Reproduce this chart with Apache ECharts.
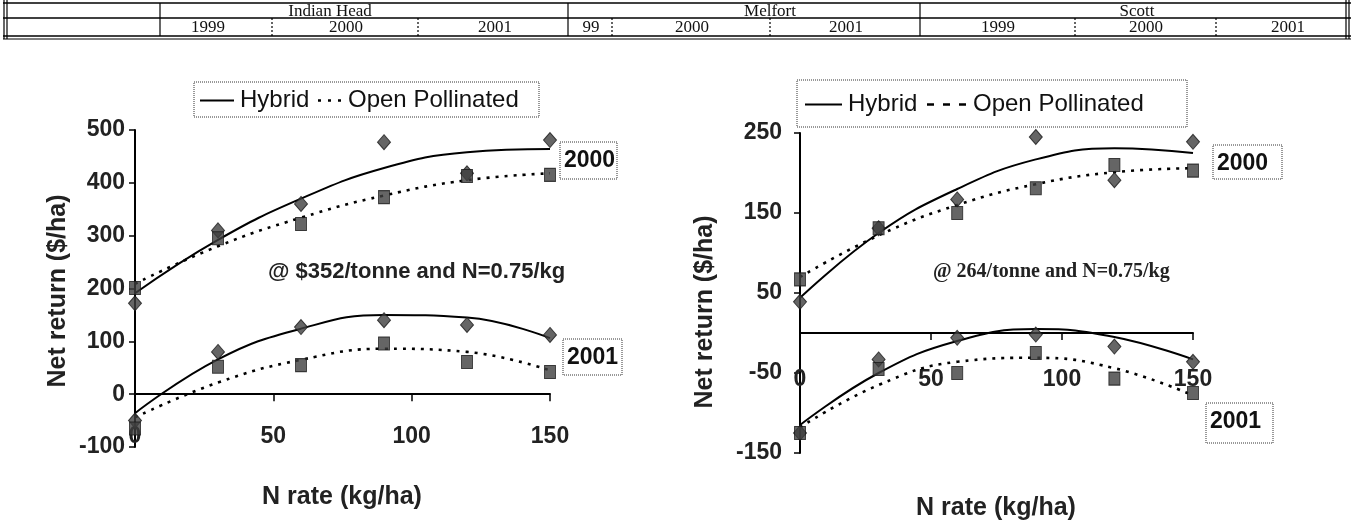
<!DOCTYPE html>
<html><head><meta charset="utf-8">
<script src="https://cdn.jsdelivr.net/npm/echarts@6/dist/echarts.min.js"></script>
<style>html,body{margin:0;padding:0;background:#fff}#c{width:1354px;height:521px}</style>
</head><body><div id="c"></div>
<script>
// ---------- data ----------
const nRates = [0, 30, 60, 90, 120, 150];
// Left panel (@ $352/tonne)
const lHyb2000 = [172, 310, 360, 477, 418, 481];
const lOP2000  = [201, 295, 322, 373, 413, 415];
const lHyb2001 = [-50, 80, 127, 140, 131, 112];
const lOP2001  = [-65, 52, 55, 96, 61, 42];
const lHybFit2000 = [191, 292, 370, 428, 458, 464];
const lOPFit2000  = [209, 280, 334, 376, 405, 418];
const lHybFit2001 = [-36, 66, 124, 150, 145, 106];
const lOPFit2001  = [-44, 22, 65, 86, 80, 45];
// Right panel (@ 264/tonne)
const rHyb2000 = [39, 131, 167, 245, 191, 239];
const rOP2000  = [67, 131, 150, 181, 210, 203];
const rHyb2001 = [-125, -33, -6, -2, -17, -36];
const rOP2001  = [-125, -45, -50, -25, -57, -75];
const rHybFit2000 = [44, 125, 180, 217, 231, 225];
const rOPFit2000  = [70, 122, 160, 186, 201, 206];
const rHybFit2001 = [-115, -50, -10, 5, -5, -33];
const rOPFit2001  = [-118, -65, -36, -31, -44, -78];
// Table header text
const locations = ['Indian Head', 'Melfort', 'Scott'];
const yearLabels = ['1999', '2000', '2001', '99', '2000', '2001', '1999', '2000', '2001'];
const legendNames = ['Hybrid', 'Open Pollinated'];
const yearTags = ['2000', '2001'];
const notes = ['@ $352/tonne and N=0.75/kg', '@ 264/tonne and N=0.75/kg'];
const yTitle = 'Net return ($/ha)';
const xTitle = 'N rate (kg/ha)';

// ---------- layout ----------
const SANS = '"Liberation Sans", Arial, sans-serif';
const SERIF = '"Liberation Serif", "Times New Roman", serif';
const pair = (ys) => nRates.map((x, i) => [x, ys[i]]);
const MK = '#3e3e3e';
const LBL = { color: '#222', fontSize: 23, fontWeight: 'bold', fontFamily: SANS };

function xLineAxis(gi) {
  return {
    gridIndex: gi, type: 'value', min: 0, max: 150, interval: 50, position: 'bottom',
    axisLine: { onZero: true, lineStyle: { color: '#000', width: 2 } },
    axisTick: { show: true, inside: false, length: 7, lineStyle: { color: '#000', width: 1.5 } },
    axisLabel: { show: false }, splitLine: { show: false }
  };
}
function xLabelAxis(gi, off) {
  return {
    gridIndex: gi, type: 'value', min: 0, max: 150, interval: 50, position: 'bottom', offset: off,
    axisLine: { show: false, onZero: false }, axisTick: { show: false },
    axisLabel: Object.assign({ margin: 4 }, LBL), splitLine: { show: false }
  };
}
function yAxisFor(gi, ymin, ymax, margin) {
  return {
    gridIndex: gi, type: 'value', min: ymin, max: ymax, interval: 100,
    axisLine: { show: true, onZero: false, lineStyle: { color: '#000', width: 2 } },
    axisTick: { show: true, inside: false, length: 6, lineStyle: { color: '#000', width: 1.5 } },
    axisLabel: Object.assign({ margin: margin }, LBL),
    splitLine: { show: false }
  };
}

function scatter(xi, yi, ys, sym) {
  return {
    type: 'scatter', xAxisIndex: xi, yAxisIndex: yi, data: pair(ys), z: 5,
    symbol: sym === 'd' ? 'diamond' : 'rect',
    symbolSize: sym === 'd' ? [13, 15] : [11, 13],
    itemStyle: { color: MK, borderColor: '#1a1a1a', borderWidth: 1 }
  };
}
function fit(xi, yi, ys, dotted) {
  return {
    type: 'line', xAxisIndex: xi, yAxisIndex: yi, data: pair(ys), smooth: 0.45,
    symbol: 'none', z: 3,
    lineStyle: { color: '#000', width: dotted ? 2.6 : 2, type: dotted ? [3, 6] : 'solid' }
  };
}

// table geometry
const colSolid = [160, 568, 920];
const colDotted = [272, 418, 612, 770, 1075, 1216];
const locX = [330, 770, 1137];
const yearX = [208, 346, 495, 591, 692, 846, 998, 1146, 1288];
const T = { top: 3, mid: 18, bot: 36 };

const g = [];
const L = (x1, y1, x2, y2, w, dash) => g.push({ type: 'line', shape: { x1, y1, x2, y2 }, style: { stroke: '#000', lineWidth: w, lineDash: dash || null } });
L(3, T.top, 1351, T.top, 1.5);
L(3, T.mid, 1351, T.mid, 1.5);
L(3, T.bot, 1351, T.bot, 1.5);
L(3, T.bot + 3, 1351, T.bot + 3, 1);
[4, 7, 1346, 1349].forEach(x => L(x, 0, x, T.bot + 3, 1.2));
colSolid.forEach(x => L(x, T.top, x, T.bot, 1.2));
colDotted.forEach(x => L(x, T.mid, x, T.bot, 1.2, [2, 2]));
locations.forEach((t, i) => g.push({ type: 'text', x: locX[i], y: (T.top + T.mid) / 2 + 1, style: { text: t, font: '17px ' + SERIF, fill: '#111', align: 'center', verticalAlign: 'middle' } }));
yearLabels.forEach((t, i) => g.push({ type: 'text', x: yearX[i], y: (T.mid + T.bot) / 2 + 1, style: { text: t, font: '17px ' + SERIF, fill: '#111', align: 'center', verticalAlign: 'middle' } }));

// legends
function legend(x0, x1, y0, y1, solidX, hybX, dashX, opX, dash) {
  const cy = (y0 + y1) / 2 + 1;
  g.push({ type: 'rect', shape: { x: x0, y: y0, width: x1 - x0, height: y1 - y0 }, style: { fill: '#fff', stroke: '#333', lineWidth: 1, lineDash: [1, 1] }, z: 10 });
  g.push({ type: 'line', shape: { x1: solidX[0], y1: cy, x2: solidX[1], y2: cy }, style: { stroke: '#000', lineWidth: 2 }, z: 11 });
  g.push({ type: 'text', x: hybX, y: cy, style: { text: legendNames[0], font: '24px ' + SANS, fill: '#111', verticalAlign: 'middle' }, z: 11 });
  g.push({ type: 'line', shape: { x1: dashX[0], y1: cy, x2: dashX[1], y2: cy }, style: { stroke: '#000', lineWidth: 2.5, lineDash: dash }, z: 11 });
  g.push({ type: 'text', x: opX, y: cy, style: { text: legendNames[1], font: '24px ' + SANS, fill: '#111', verticalAlign: 'middle' }, z: 11 });
}
legend(194, 539, 82, 117, [200, 234], 240, [318, 346], 348, [3, 7]);
legend(797, 1187, 80, 127, [805, 842], 848, [927, 966], 973, [7, 9]);

// year tag boxes
function tag(x0, x1, y0, y1, t) {
  g.push({ type: 'rect', shape: { x: x0, y: y0, width: x1 - x0, height: y1 - y0 }, style: { fill: 'none', stroke: '#333', lineWidth: 1, lineDash: [1, 1] } });
  g.push({ type: 'text', x: x0 + 4, y: y0 + 19, style: { text: t, font: 'bold 23px ' + SANS, fill: '#111', verticalAlign: 'middle' } });
}
tag(560, 617, 142, 179, yearTags[0]);
tag(563, 622, 339, 375, yearTags[1]);
tag(1213, 1282, 145, 179, yearTags[0]);
tag(1206, 1273, 403, 443, yearTags[1]);

// notes and axis titles
const TITLE = 'bold 25px ' + SANS;
g.push({ type: 'text', x: 268, y: 272, style: { text: notes[0], font: 'bold 22px ' + SANS, fill: '#222', verticalAlign: 'middle' } });
g.push({ type: 'text', x: 933, y: 272, style: { text: notes[1], font: 'bold 20px ' + SERIF, fill: '#222', verticalAlign: 'middle' } });
g.push({ type: 'text', x: 342, y: 497, style: { text: xTitle, font: TITLE, fill: '#222', align: 'center', verticalAlign: 'middle' } });
g.push({ type: 'text', x: 996, y: 508, style: { text: xTitle, font: TITLE, fill: '#222', align: 'center', verticalAlign: 'middle' } });
g.push({ type: 'text', x: 58, y: 291, rotation: Math.PI / 2, style: { text: yTitle, font: TITLE, fill: '#222', align: 'center', verticalAlign: 'middle' } });
g.push({ type: 'text', x: 705, y: 312, rotation: Math.PI / 2, style: { text: yTitle, font: TITLE, fill: '#222', align: 'center', verticalAlign: 'middle' } });

const chart = echarts.init(document.getElementById('c'), null, { renderer: 'canvas' });
chart.setOption({
  animation: false,
  backgroundColor: '#fff',
  grid: [
    { left: 135, top: 130, width: 415, height: 317, containLabel: false, outerBoundsMode: 'none' },
    { left: 800, top: 133, width: 393, height: 320, containLabel: false, outerBoundsMode: 'none' }
  ],
  xAxis: [xLineAxis(0), xLabelAxis(0, -26), xLineAxis(1), xLabelAxis(1, -89)],
  yAxis: [yAxisFor(0, -100, 500, 10), yAxisFor(1, -150, 250, 18)],
  series: [
    fit(0, 0, lHybFit2000, false), fit(0, 0, lOPFit2000, true),
    fit(0, 0, lHybFit2001, false), fit(0, 0, lOPFit2001, true),
    scatter(0, 0, lHyb2000, 'd'), scatter(0, 0, lOP2000, 's'),
    scatter(0, 0, lHyb2001, 'd'), scatter(0, 0, lOP2001, 's'),
    fit(2, 1, rHybFit2000, false), fit(2, 1, rOPFit2000, true),
    fit(2, 1, rHybFit2001, false), fit(2, 1, rOPFit2001, true),
    scatter(2, 1, rHyb2000, 'd'), scatter(2, 1, rOP2000, 's'),
    scatter(2, 1, rHyb2001, 'd'), scatter(2, 1, rOP2001, 's')
  ],
  graphic: g
});
</script>
</body></html>
